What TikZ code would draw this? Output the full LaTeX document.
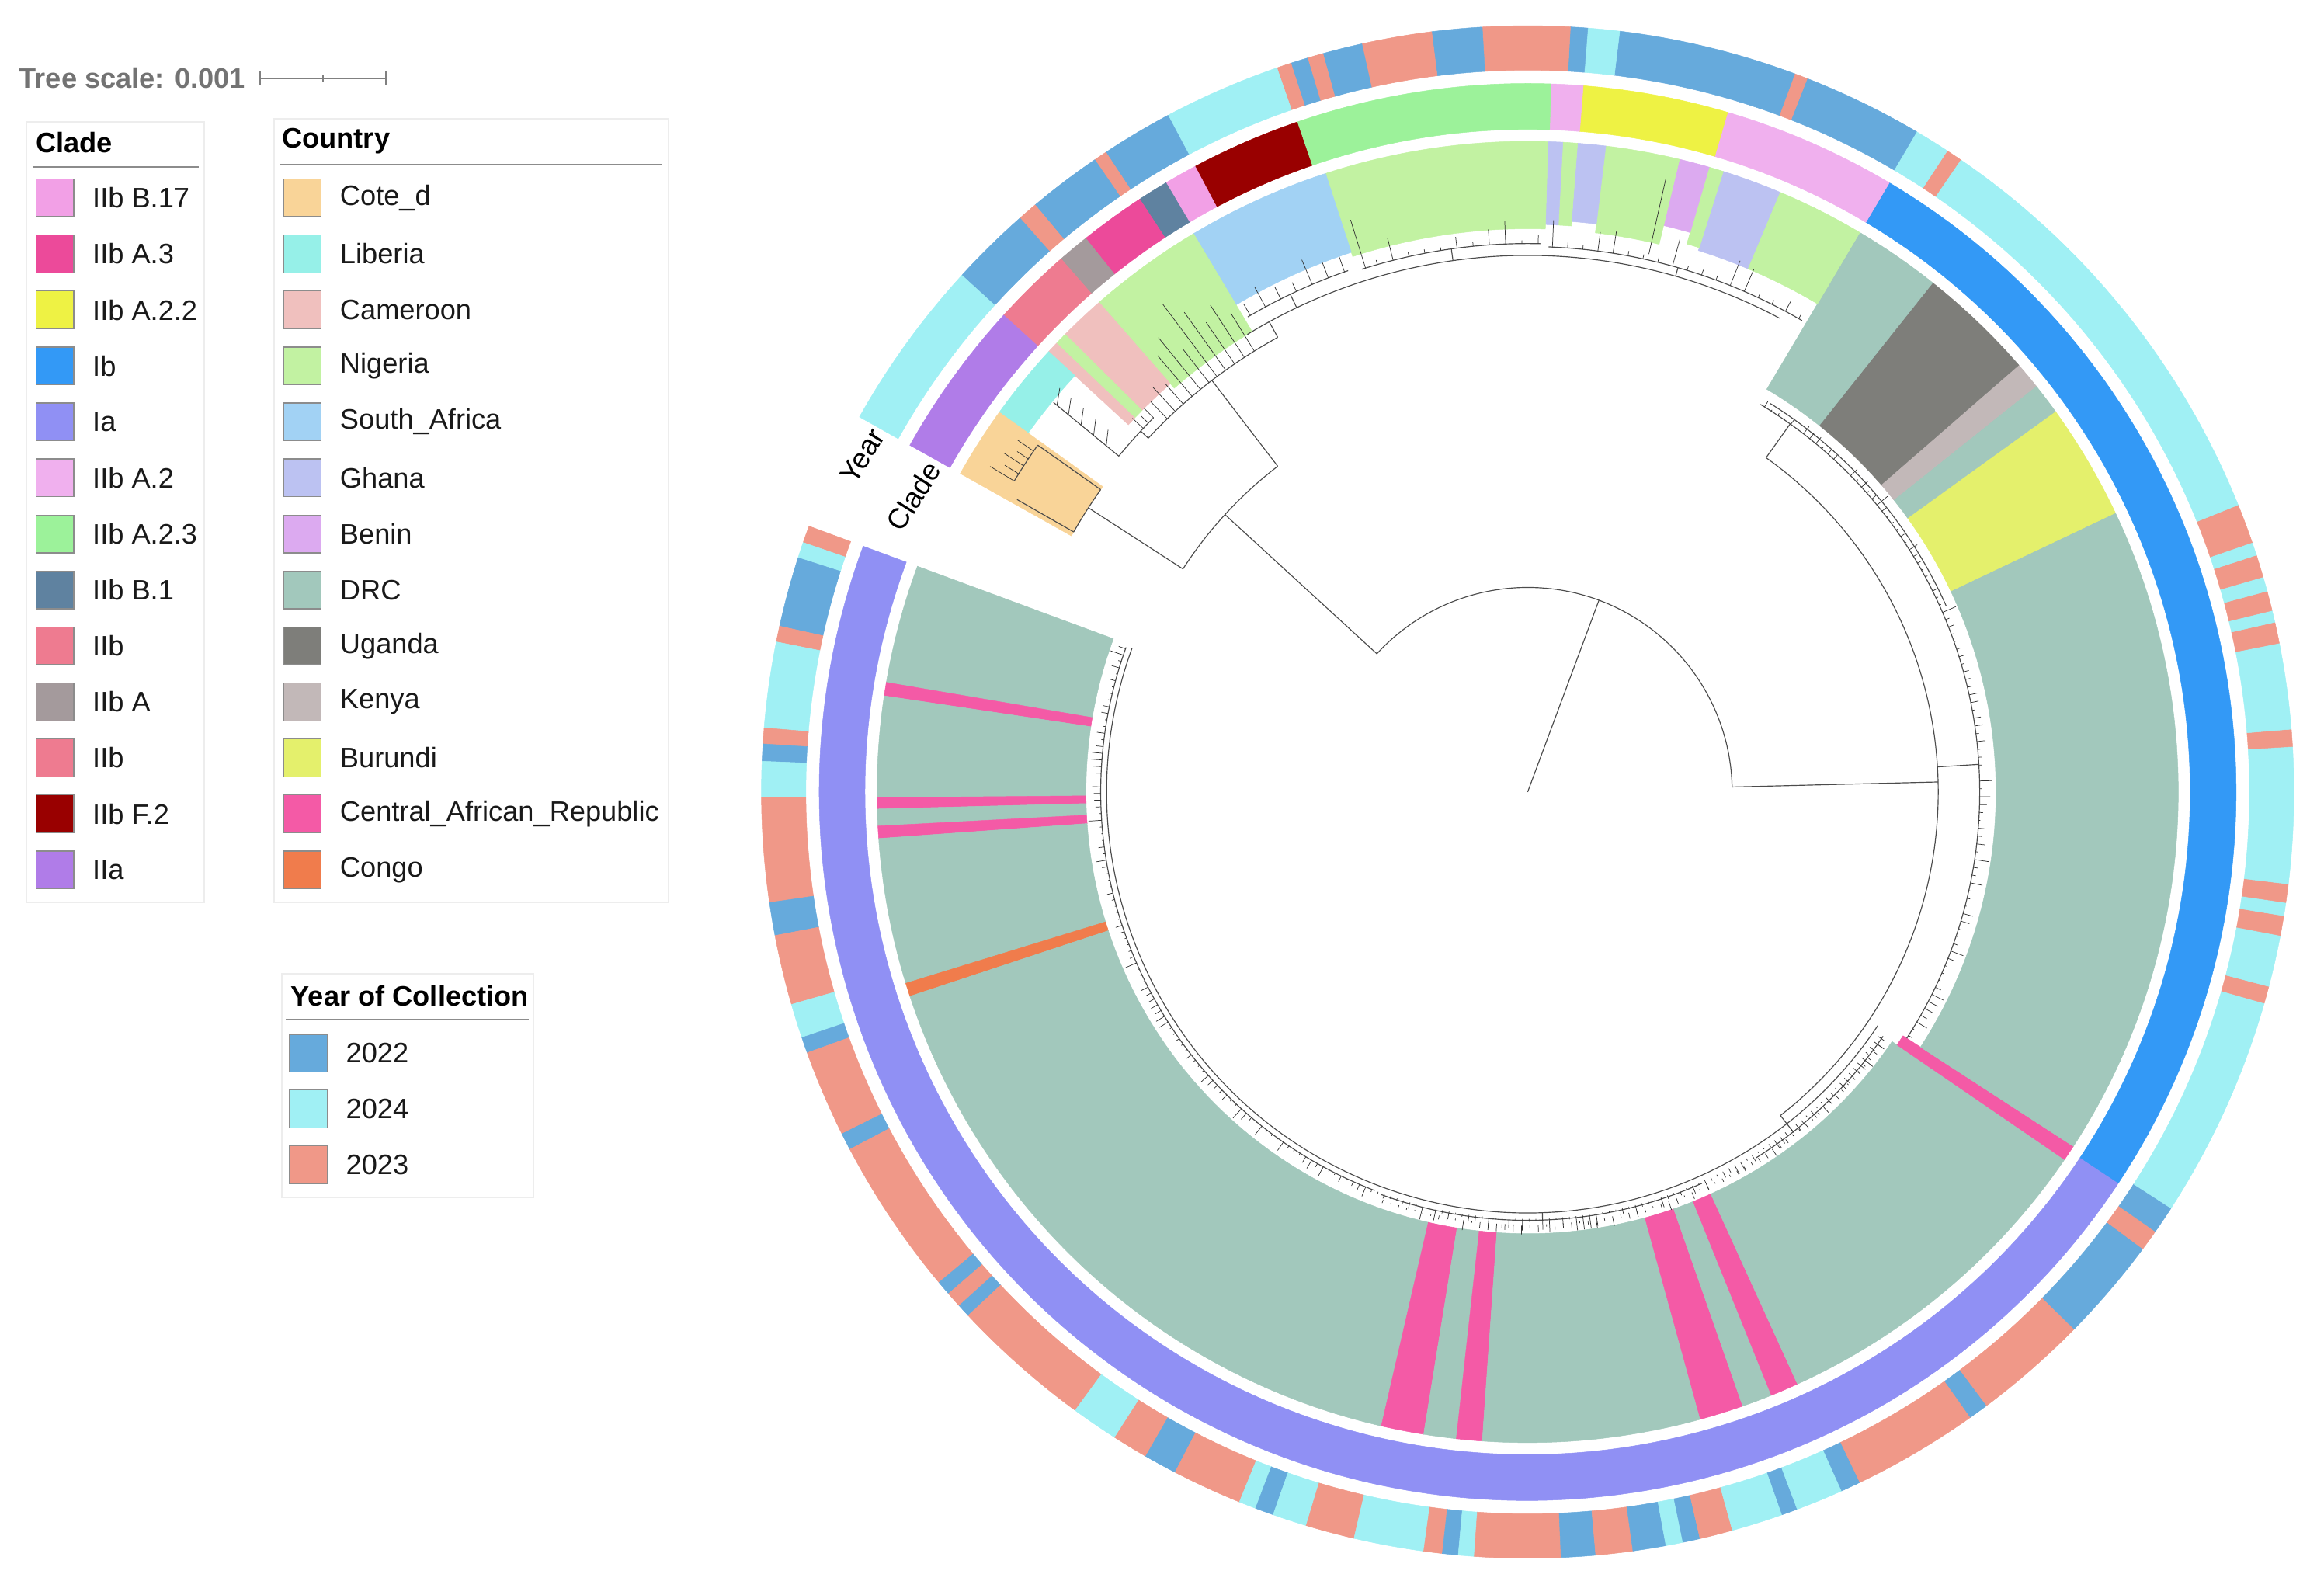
\documentclass[tikz,border=0pt]{standalone}
\usepackage{fontspec}
\setmainfont{Liberation Sans}
\usetikzlibrary{positioning}

% year colours
\definecolor{yrTwentyTwo}{HTML}{66AADC}
\definecolor{yrTwentyFour}{HTML}{A0F0F4}
\definecolor{yrTwentyThree}{HTML}{F09888}
% clade colours
\definecolor{cladeBseventeen}{HTML}{F2A0E6}
\definecolor{cladeAthree}{HTML}{EC4A9A}
\definecolor{cladeAtwotwo}{HTML}{EEF244}
\definecolor{cladeIb}{HTML}{3399F6}
\definecolor{cladeIa}{HTML}{9090F4}
\definecolor{cladeAtwo}{HTML}{F0B0EE}
\definecolor{cladeAtwothree}{HTML}{9CF29A}
\definecolor{cladeBone}{HTML}{5F82A0}
\definecolor{cladeIIb}{HTML}{EE7B90}
\definecolor{cladeA}{HTML}{A49A9C}
\definecolor{cladeFtwo}{HTML}{990000}
\definecolor{cladeIIa}{HTML}{B07CE8}
% country colours
\definecolor{ctyCote}{HTML}{F9D498}
\definecolor{ctyLiberia}{HTML}{96F0E8}
\definecolor{ctyCameroon}{HTML}{F0C0BE}
\definecolor{ctyNigeria}{HTML}{C2F2A2}
\definecolor{ctySouthAfrica}{HTML}{A2D2F4}
\definecolor{ctyGhana}{HTML}{BCC2F2}
\definecolor{ctyBenin}{HTML}{DCAAF0}
\definecolor{ctyDRC}{HTML}{A2C8BC}
\definecolor{ctyUganda}{HTML}{7E7E7A}
\definecolor{ctyKenya}{HTML}{C2B8B8}
\definecolor{ctyBurundi}{HTML}{E4F06C}
\definecolor{ctyCAR}{HTML}{F45AA6}
\definecolor{ctyCongo}{HTML}{F07C4C}

\newcommand\pxu{0.2mm}
\newcommand\legfont{\fontsize{10.8}{13}\selectfont}
\newcommand\ringseg[5]{%
  \filldraw[fill=#1,draw=#1,line width=.15pt] (#2:#4) arc[start angle=#2,end angle=#3,radius=#4*\pxu]
    -- (#3:#5) arc[start angle=#3,end angle=#2,radius=#5*\pxu] -- cycle;}
\newcommand\treearc[3]{\draw[branch] (#2:#1) arc[start angle=#2,end angle=#3,radius=#1*\pxu];}
\newcommand\radial[3]{\draw[branch] (#1:#2) -- (#1:#3);}
\newcommand\tipfan[6]{%
  \foreach \ang in {#1,#2,...,#3}{%
    \pgfmathsetmacro\tipend{#4+#5+#6*rnd^2}\draw[tip] (\ang:#4) -- (\ang:\tipend);}}

\tikzset{
  branch/.style={draw=black!70, line width=.35pt},
  tip/.style={draw=black!80, line width=.22pt},
  swatch/.style={draw=black!45, line width=.4pt, minimum width=5.1mm, minimum height=5.1mm, inner sep=0pt},
  legtext/.style={anchor=west, inner sep=0pt, text=black!90, font=\legfont},
  legtitle/.style={anchor=west, inner sep=0pt, font=\legfont\bfseries},
  legframe/.style={draw=black!7, line width=.6pt},
  legrule/.style={draw=black!45, line width=.6pt},
  scaletext/.style={anchor=west, inner sep=0pt, text=black!55, font=\legfont\bfseries},
  scalebar/.style={draw=black!50, line width=.6pt},
  ringtext/.style={inner sep=0pt, font=\fontsize{11}{13}\selectfont},
}

\begin{document}
\begin{tikzpicture}[x=0.2mm, y=0.2mm]
\pgfmathsetseed{11}
\useasboundingbox (0,0) rectangle (1568,-1071);

% tree scale
\node[scaletext] (scalelab) at (12.6,-52.7) {Tree scale: 0.001};
\coordinate (sbl) at (175.5,-52.7);
\coordinate (sbm) at (218,-52.7);
\coordinate (sbr) at (260.5,-52.7);
\draw[scalebar] (sbl) -- (sbr);
\draw[scalebar] ([yshift=-2.6pt]sbl) -- ([yshift=2.6pt]sbl);
\draw[scalebar] ([yshift=-2.6pt]sbr) -- ([yshift=2.6pt]sbr);
\draw[scalebar] ([yshift=-1.2pt]sbm) -- ([yshift=1.2pt]sbm);

% clade legend
\draw[legframe] (18,-82) rectangle (138,-609);
\node[legtitle] (cladehead) at (24,-96) {Clade};
\draw[legrule] (22,-112.6) -- (134,-112.6);
\foreach \col/\lab [count=\i from 0] in {cladeBseventeen/IIb B.17,cladeAthree/IIb A.3,
  cladeAtwotwo/IIb A.2.2,cladeIb/Ib,cladeIa/Ia,cladeAtwo/IIb A.2,cladeAtwothree/IIb A.2.3,
  cladeBone/IIb B.1,cladeIIb/IIb,cladeA/IIb A,cladeIIb/IIb,cladeFtwo/IIb F.2,cladeIIa/IIa}{
  \node[swatch, fill=\col] (cladebox\i) at (37,{-133.5-37.78*\i}) {};
  \node[legtext, right=2.4mm of cladebox\i] (cladetxt\i) {\lab};
}

% country legend
\draw[legframe] (185,-80) rectangle (451,-609);
\node[legtitle] (ctyhead) at (190,-95) {Country};
\draw[legrule] (188.8,-111) -- (446.5,-111);
\foreach \col/\lab [count=\i from 0] in {ctyCote/Cote\_d,ctyLiberia/Liberia,
  ctyCameroon/Cameroon,ctyNigeria/Nigeria,ctySouthAfrica/South\_Africa,ctyGhana/Ghana,
  ctyBenin/Benin,ctyDRC/DRC,ctyUganda/Uganda,ctyKenya/Kenya,ctyBurundi/Burundi,
  ctyCAR/Central\_African\_Republic,ctyCongo/Congo}{
  \node[swatch, fill=\col] (ctybox\i) at (204,{-133.5-37.78*\i}) {};
  \node[legtext, right=2.4mm of ctybox\i] (ctytxt\i) {\lab};
}

% year legend
\draw[legframe] (190,-657) rectangle (360,-808);
\node[legtitle] (yearhead) at (196,-672) {Year of Collection};
\draw[legrule] (193,-688) -- (357,-688);
\foreach \col/\lab [count=\i from 0] in {yrTwentyTwo/2022,yrTwentyFour/2024,yrTwentyThree/2023}{
  \node[swatch, fill=\col] (yearbox\i) at (208,{-710.5-37.6*\i}) {};
  \node[legtext, right=2.4mm of yearbox\i] (yeartxt\i) {\lab};
}

\begin{scope}[shift={(1030.7,-534.3)}]
  % country ranges
  \foreach \angA/\angB/\col in {159.7/170.3/ctyDRC,170.3/171.5/ctyCAR,171.5/180.5/ctyDRC,
    180.5/181.5/ctyCAR,181.5/183.0/ctyDRC,183.0/184.1/ctyCAR,184.1/197.1/ctyDRC,
    197.1/198.3/ctyCongo,198.3/257.0/ctyDRC,257.0/260.8/ctyCAR,260.8/263.7/ctyDRC,
    263.7/266.0/ctyCAR,266.0/285.4/ctyDRC,285.4/289.3/ctyCAR,289.3/292.0/ctyDRC,
    292.0/294.5/ctyCAR,294.5/325.6/ctyDRC}
    {\ringseg{\col}{\angA}{\angB}{298}{439}}
  \ringseg{ctyCAR}{325.6}{327.0}{302}{439}
  \foreach \angA/\angB/\col in {327.0/385.4/ctyDRC,385.4/395.8/ctyBurundi,395.8/398.6/ctyDRC,
    398.6/401.0/ctyKenya,401.0/411.5/ctyUganda,411.5/419.3/ctyDRC}
    {\ringseg{\col}{\angA}{\angB}{316}{439}}
  \foreach \angA/\angB/\col/\rin in {419.3/427.2/ctyNigeria/383,427.2/432.5/ctyGhana/383,
    432.5/433.8/ctyNigeria/385,433.8/436.5/ctyBenin/393,436.5/443.1/ctyNigeria/380,
    443.1/445.6/ctyGhana/386,445.6/446.9/ctyNigeria/383,446.9/448.2/ctyGhana/383,
    448.2/468.1/ctyNigeria/380,468.1/480.9/ctySouthAfrica/383,480.9/491.2/ctyNigeria/362,
    491.2/495.3/ctyCameroon/366,495.3/496.4/ctyNigeria/366,496.4/497.4/ctyCameroon/366,
    497.4/504.3/ctyLiberia/415,504.3/510.7/ctyCote/353}
    {\ringseg{\col}{\angA}{\angB}{\rin}{439}}

  % clade ring
  \foreach \angA/\angB/\col in {159.7/326.5/cladeIa,326.5/419.3/cladeIb,419.3/433.6/cladeAtwo,
    433.6/445.5/cladeAtwotwo,445.5/448.1/cladeAtwo,448.1/469.0/cladeAtwothree,
    469.0/478.0/cladeFtwo,478.0/480.7/cladeBseventeen,480.7/483.2/cladeBone,
    483.2/488.6/cladeAthree,488.6/491.2/cladeA,491.2/497.7/cladeIIb,497.7/510.7/cladeIIa}
    {\ringseg{\col}{\angA}{\angB}{447}{478}}

  % year ring
  \foreach \angA/\angB/\col in {159.7/161.0/yrTwentyThree,161.0/162.2/yrTwentyFour,
    162.2/167.5/yrTwentyTwo,167.5/168.7/yrTwentyThree,168.7/175.2/yrTwentyFour,
    175.2/176.4/yrTwentyThree,176.4/177.7/yrTwentyTwo,177.7/180.4/yrTwentyFour,
    180.4/188.3/yrTwentyThree,188.3/190.8/yrTwentyTwo,190.8/196.1/yrTwentyThree,
    196.1/198.7/yrTwentyFour,198.7/199.9/yrTwentyTwo,199.9/206.5/yrTwentyThree,
    206.5/207.8/yrTwentyTwo,207.8/219.8/yrTwentyThree,219.8/220.9/yrTwentyTwo,
    220.9/222.1/yrTwentyThree,222.1/223.1/yrTwentyTwo,223.1/233.8/yrTwentyThree,
    233.8/237.4/yrTwentyFour,237.4/240.1/yrTwentyThree,240.1/242.6/yrTwentyTwo,
    242.6/247.9/yrTwentyThree,247.9/249.2/yrTwentyFour,249.2/250.6/yrTwentyTwo,
    250.6/253.2/yrTwentyFour,253.2/256.9/yrTwentyThree,256.9/262.2/yrTwentyFour,
    262.2/263.6/yrTwentyThree,263.6/264.8/yrTwentyTwo,264.8/266.0/yrTwentyFour,
    266.0/272.5/yrTwentyThree,272.5/275.1/yrTwentyTwo,275.1/277.9/yrTwentyThree,
    277.9/280.4/yrTwentyTwo,280.4/281.7/yrTwentyFour,281.7/283.0/yrTwentyTwo,
    283.0/285.5/yrTwentyThree,285.5/289.4/yrTwentyFour,289.4/290.6/yrTwentyTwo,
    290.6/294.2/yrTwentyFour,294.2/295.7/yrTwentyTwo,295.7/305.3/yrTwentyThree,
    305.3/306.8/yrTwentyTwo,306.8/315.5/yrTwentyThree,315.5/323.4/yrTwentyTwo,
    323.4/325.0/yrTwentyThree,325.0/327.1/yrTwentyTwo,327.1/344.0/yrTwentyFour,
    344.0/345.3/yrTwentyThree,345.3/349.2/yrTwentyFour,349.2/350.7/yrTwentyThree,
    350.7/351.7/yrTwentyFour,351.7/353.1/yrTwentyThree,353.1/363.4/yrTwentyFour,
    363.4/364.7/yrTwentyThree,364.7/371.2/yrTwentyFour,371.2/372.8/yrTwentyThree,
    372.8/373.7/yrTwentyFour,373.7/375.2/yrTwentyThree,375.2/376.3/yrTwentyFour,
    376.3/378.0/yrTwentyThree,378.0/379.0/yrTwentyFour,379.0/382.0/yrTwentyThree,
    382.0/415.6/yrTwentyFour,415.6/416.8/yrTwentyThree,416.8/419.5/yrTwentyFour,
    419.5/428.6/yrTwentyTwo,428.6/429.6/yrTwentyThree,429.6/443.1/yrTwentyTwo,
    443.1/445.5/yrTwentyFour,445.5/446.8/yrTwentyTwo,446.8/453.4/yrTwentyThree,
    453.4/457.2/yrTwentyTwo,457.2/462.5/yrTwentyThree,462.5/465.5/yrTwentyTwo,
    465.5/466.7/yrTwentyThree,466.7/468.0/yrTwentyTwo,468.0/469.1/yrTwentyThree,
    469.1/478.0/yrTwentyFour,478.0/483.4/yrTwentyTwo,483.4/484.4/yrTwentyThree,
    484.4/490.0/yrTwentyTwo,490.0/491.5/yrTwentyThree,491.5/497.6/yrTwentyTwo,
    497.6/510.7/yrTwentyFour}
    {\ringseg{\col}{\angA}{\angB}{487}{517}}

  % ring labels
  \node[ringtext, rotate=58] (yearlab) at (153.2:503) {Year};
  \node[ringtext, rotate=58] (cladelab) at (154.3:460) {Clade};

  % root and backbone
  \radial{69.6}{0}{138}
  \treearc{138}{1.4}{137.5}
  \radial{1.4}{138}{277}
  \treearc{277}{-52}{54.5}

  % Ia
  \radial{-52}{277}{284}
  \treearc{284}{160}{326.3}
  \radial{272}{284}{289}
  \treearc{289}{250}{294}
  \radial{308}{284}{291}
  \treearc{291}{302}{325.5}
  \treearc{288}{160.2}{249}
  \tipfan{160.4}{161.3}{326}{288}{1}{9}
  \tipfan{250.5}{251.6}{325}{292}{1}{6}

  % Ib
  \radial{54.5}{277}{305}
  \radial{3.5}{277}{305}
  \treearc{305}{327}{419}
  \treearc{309}{24}{58}
  \tipfan{327.4}{328.4}{418.8}{305}{1}{9}

  % IIb and IIa
  \radial{137.5}{138}{277}
  \treearc{277}{127.5}{147.1}
  % Cote_d
  \radial{147.1}{277}{353}
  \treearc{353}{144.7}{150.2}
  \radial{150.2}{353}{397}
  \radial{144.7}{353}{405}
  \treearc{405}{144.7}{148.8}
  \foreach \ang/\tipend in {145.4/418,146.3/414,147.1/421,148.0/416,148.8/424}
    {\draw[tip] (\ang:405) -- (\ang:\tipend);}
  % IIb
  \radial{127.5}{277}{350}
  \treearc{350}{118.8}{137.0}
  % Liberia
  \radial{137.0}{350}{357}
  \treearc{357}{135.0}{140.6}
  \radial{140.6}{357}{414}
  \foreach \rr in {368,379,390,401,411}
    {\draw[tip] (140.6:\rr) -- (139.2:{\rr+6});}
  \foreach \ang/\tipend in {135.0/366,135.8/364,136.6/367}
    {\draw[tip] (\ang:357) -- (\ang:\tipend);}
  % Nigeria, Cameroon
  \foreach \ang/\tipend in {121.8/380,123.1/392,124.4/384,125.6/398,126.8/411,127.9/379,
    129.1/395,130.3/386,131.6/368,132.8/372,134.0/366}
    {\draw[tip] (\ang:350) -- (\ang:\tipend);}
  % South_Africa and upper Nigeria
  \radial{118.8}{350}{362}
  \treearc{362}{62}{121.5}
  \radial{115.5}{362}{372}
  \treearc{372}{109}{120.5}
  \tipfan{109.4}{111.2}{120.5}{372}{4}{16}
  \radial{98}{362}{370}
  \treearc{370}{88.6}{107.6}
  \tipfan{88.9}{90.6}{107.3}{370}{2}{14}
  \draw[tip] (107.2:370) -- (107.2:404);
  % Ghana, Benin
  \radial{74}{362}{368}
  \treearc{368}{59.8}{87.8}
  \tipfan{60.2}{61.8}{87.5}{368}{3}{16}
  \draw[tip] (77.3:372) -- (77.3:424);
\end{scope}
\end{tikzpicture}
\end{document}
